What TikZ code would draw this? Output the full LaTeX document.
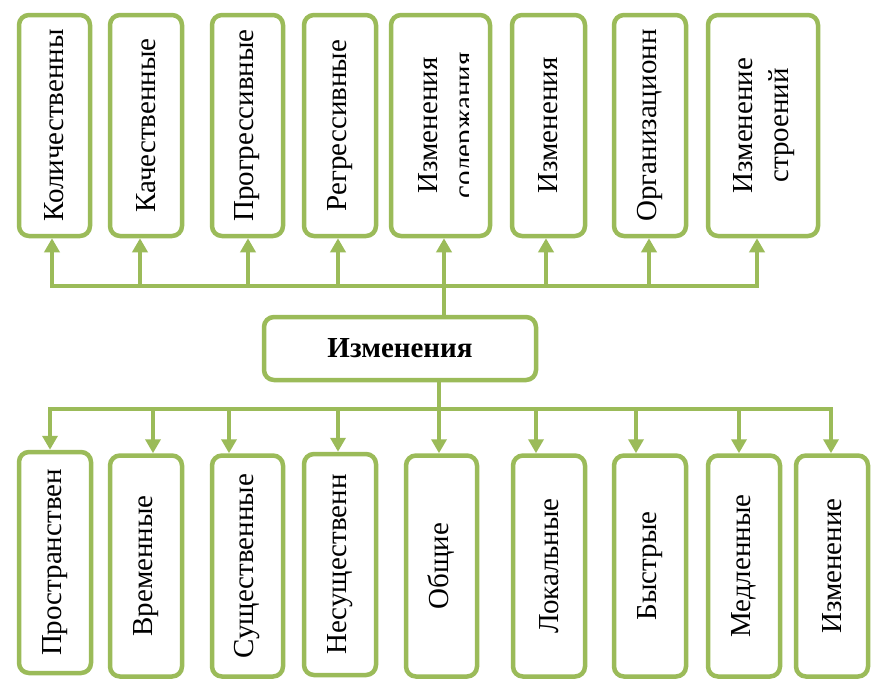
\documentclass[tikz,border=0pt]{standalone}
\usepackage{fontspec}
\setmainfont{Liberation Serif}
\usetikzlibrary{arrows.meta, positioning, calc}
\definecolor{myolive}{HTML}{9BBB59}
\newcommand{\vtext}[1]{\rotatebox{90}{#1}}
\tikzset{
  box/.style={draw=myolive, line width=4.5pt, rounded corners=10pt, fill=white,
    minimum width=#1, minimum height=221pt, inner sep=0pt},
  box/.default=72pt,
  cbox/.style={draw=myolive, line width=4.5pt, rounded corners=10pt, fill=white,
    minimum width=272pt, minimum height=63pt, inner sep=0pt},
  conn/.style={draw=myolive, line width=4.5pt, -{Triangle[length=14pt,width=15pt]}}
}
\begin{document}
\begin{tikzpicture}[x=1pt, y=-1pt, font=\fontsize{29}{36}\selectfont]
    \fill[white] (0,0) rectangle (895,699);
    \useasboundingbox (0,0) rectangle (895,699);

    % verkhnij rjad
    \node[box=71pt] (t1) at (54.5,125.5) {\vtext{Количественны}};
    \node[box=72pt] (t2) at (146,125.5) {\vtext{Качественные}};
    \node[box=71pt] (t3) at (247.5,125.5) {\vtext{Прогрессивные}};
    \node[box=72pt] (t4) at (340,125.5) {\vtext{Регрессивные}};
    \node[box=99pt] (t5) at (440.5,125.5) {};
    \begin{scope}
        \clip (t5.north west) rectangle ($(t5.south)+(27.5,0)$);
        \node (t5txt) at ($(t5)+(7.5,0)$) {\vtext{\begin{tabular}{@{}c@{}}Изменения\\содержания\end{tabular}}};
    \end{scope}
    \node[box=73pt] (t6) at (548.5,125.5) {\vtext{Изменения}};
    \node[box=72pt] (t7) at (650,125.5) {\vtext{Организационн}};
    \node[box=110pt] (t8) at (763,125.5) {\vtext{\begin{tabular}{@{}c@{}}Изменение\\строений\end{tabular}}};

    % centr
    \node[cbox] (c) at (400,348.5) {\textbf{Изменения}};

    % nizhnij rjad
    \node[box] (b1) at (55,562.5) {\vtext{Пространствен}};
    \node[box] (b2) at (146,566) {\vtext{Временные}};
    \node[box=71pt] (b3) at (247.5,566) {\vtext{Существенные}};
    \node[box] (b4) at (340,564.5) {\vtext{Несущественн}};
    \node[box=71pt] (b5) at (441.5,566) {\vtext{Общие}};
    \node[box] (b6) at (549,566) {\vtext{Локальные}};
    \node[box] (b7) at (650,566) {\vtext{Быстрые}};
    \node[box] (b8) at (744,566) {\vtext{Медленные}};
    \node[box] (b9) at (832,566) {\vtext{Изменение}};

    % strelki
    \coordinate (tbus) at (444,286);
    \foreach \k/\dx in {1/-2.5,2/-6,3/0.5,4/-2,5/3.5,6/-2.5,7/-1,8/-6}
        \draw[conn] (c.north -| tbus) -- (tbus) -| ([xshift=\dx pt]t\k.south);
    \coordinate (bbus) at (439,409);
    \foreach \k/\dx in {1/-5,2/7,3/-18.5,4/-2,5/-2.5,6/-13,7/-14,8/-5,9/-1}
        \draw[conn] (c.south -| bbus) -- (bbus) -| ([xshift=\dx pt]b\k.north);
\end{tikzpicture}
\end{document}
